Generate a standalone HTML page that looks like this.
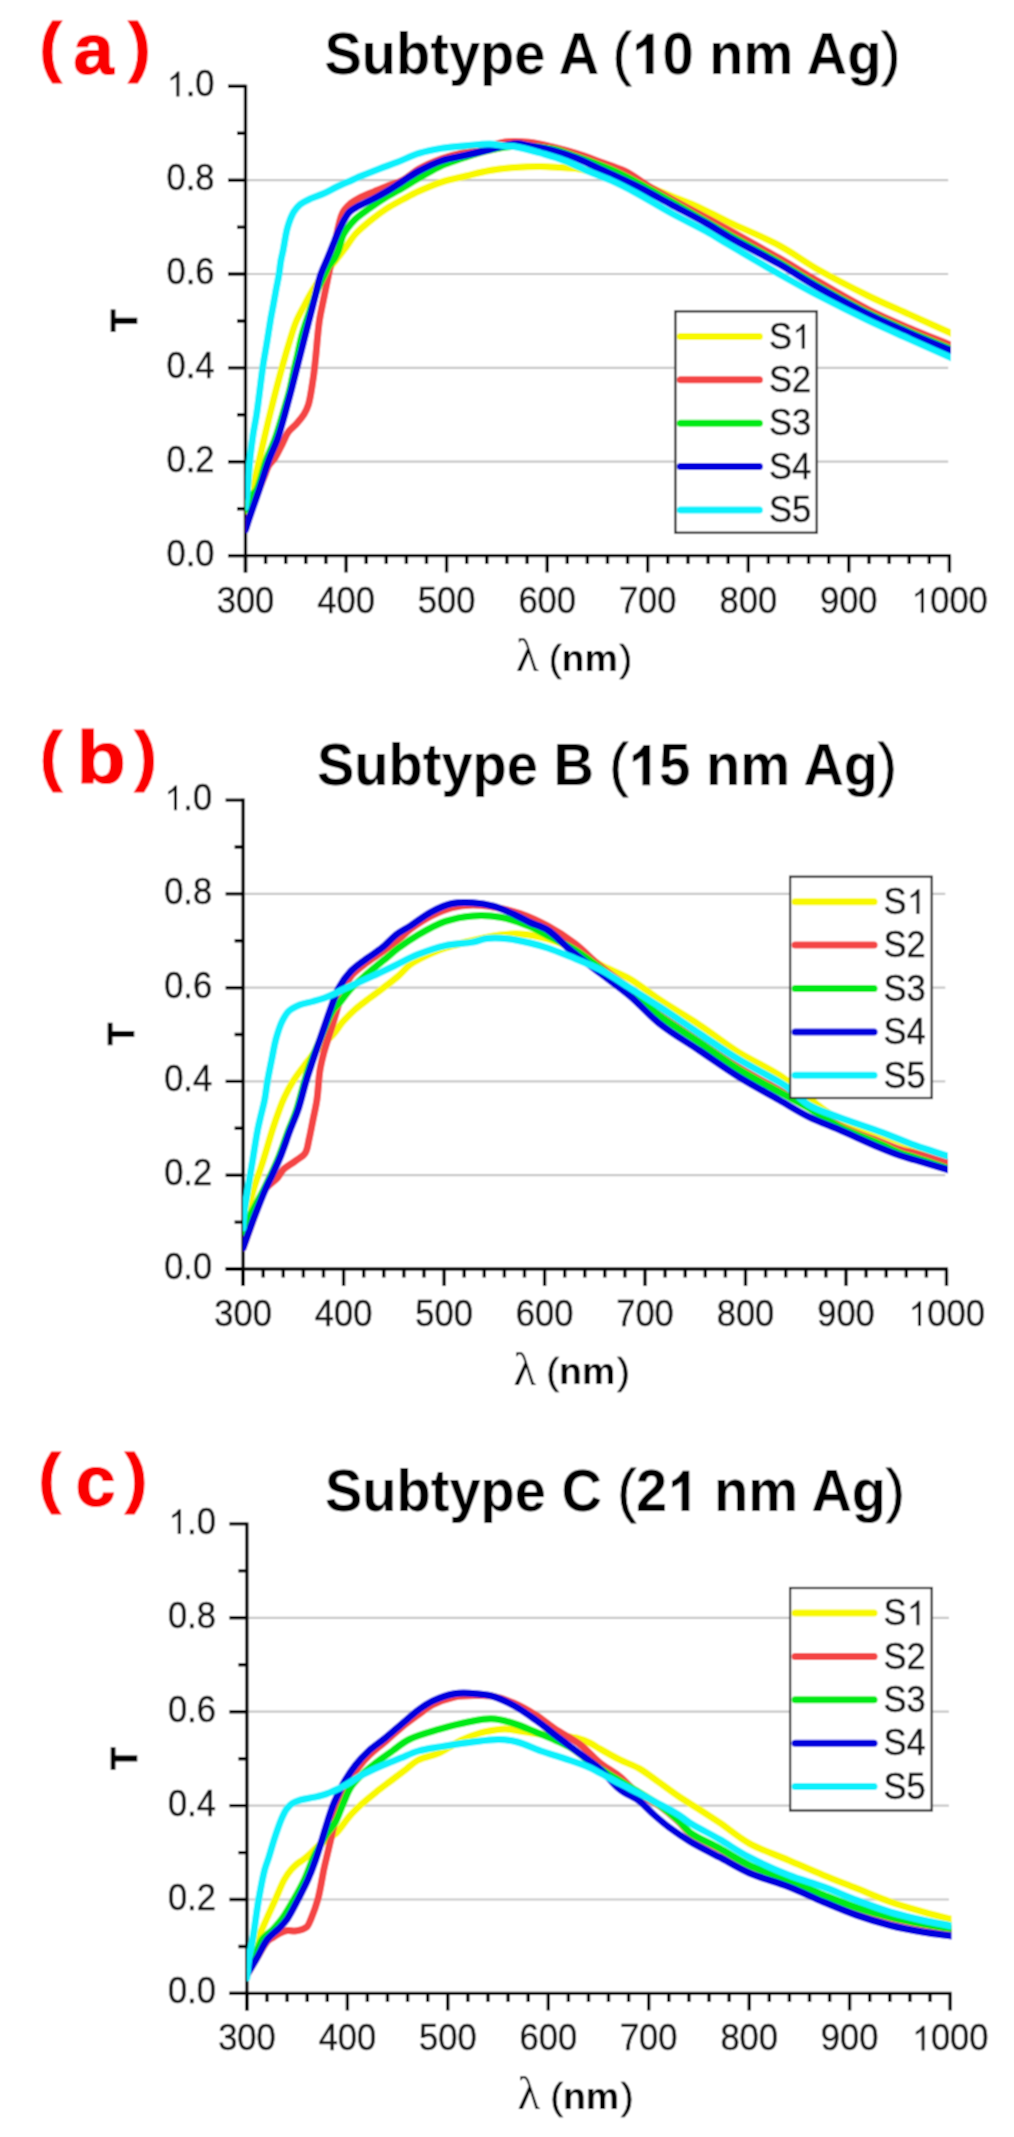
<!DOCTYPE html>
<html><head><meta charset="utf-8"><title>Transmittance spectra of subtypes A, B, C</title>
<style>
html,body{margin:0;padding:0;background:#fff;}
body{width:1014px;height:2137px;overflow:hidden;}
svg{display:block;}
text{font-family:"Liberation Sans", sans-serif;}
.h{fill-opacity:0;stroke-opacity:0;}
.tl{font-size:34.5px;fill:#111;stroke:#111;stroke-width:0.45px;}
.tt{font-size:56px;font-weight:bold;fill:#000;}
.tp{font-weight:normal;stroke:#000;stroke-width:0.9px;}
.pl{font-weight:bold;fill:#fa0000;stroke:#fa0000;stroke-width:1.2px;}
.ax{font-size:37px;font-weight:bold;fill:#000;stroke:#000;stroke-width:0.6px;}
.lam{font-family:"Liberation Serif",serif;font-size:47px;fill:#000;}
.nm{font-size:37.5px;font-weight:bold;fill:#000;}
.np{font-weight:normal;stroke:#000;stroke-width:0.6px;}
</style></head>
<body>
<svg width="1014" height="2137" viewBox="0 0 1014 2137">
<defs><path id="oneR" d="M764,0 L583,0 L583,1100 Q448,985 238,895 L238,1062 Q488,1175 638,1409 L764,1409 Z"/><path id="oneB" d="M806,0 L525,0 L525,1013 Q367,885 172,812 L172,1052 Q437,1160 567,1409 L806,1409 Z"/>
<filter id="soft" x="0" y="0" width="1014" height="2137" filterUnits="userSpaceOnUse"><feConvolveMatrix order="3" kernelMatrix="1 2 1 2 4 2 1 2 1" divisor="16" edgeMode="duplicate" preserveAlpha="true"/></filter></defs>
<g filter="url(#soft)">
<rect width="1014" height="2137" fill="#fff"/>
<line x1="245.5" y1="461.7" x2="948.2" y2="461.7" stroke="#c8c8c8" stroke-width="2.2"/>
<line x1="245.5" y1="367.9" x2="948.2" y2="367.9" stroke="#c8c8c8" stroke-width="2.2"/>
<line x1="245.5" y1="274.0" x2="948.2" y2="274.0" stroke="#c8c8c8" stroke-width="2.2"/>
<line x1="245.5" y1="180.2" x2="948.2" y2="180.2" stroke="#c8c8c8" stroke-width="2.2"/>
<path d="M228.0,555.6 L950.9,555.6" stroke="#000" stroke-width="3.4" fill="none"/>
<path d="M245.5,572.6 L245.5,84.8" stroke="#000" stroke-width="3.4" fill="none"/>
<path d="M245.5,555.6 L245.5,572.6 M265.6,555.6 L265.6,564.1 M285.7,555.6 L285.7,564.1 M305.8,555.6 L305.8,564.1 M325.9,555.6 L325.9,564.1 M346.1,555.6 L346.1,572.6 M366.2,555.6 L366.2,564.1 M386.3,555.6 L386.3,564.1 M406.4,555.6 L406.4,564.1 M426.5,555.6 L426.5,564.1 M446.6,555.6 L446.6,572.6 M466.7,555.6 L466.7,564.1 M486.8,555.6 L486.8,564.1 M506.9,555.6 L506.9,564.1 M527.1,555.6 L527.1,564.1 M547.2,555.6 L547.2,572.6 M567.3,555.6 L567.3,564.1 M587.4,555.6 L587.4,564.1 M607.5,555.6 L607.5,564.1 M627.6,555.6 L627.6,564.1 M647.7,555.6 L647.7,572.6 M667.8,555.6 L667.8,564.1 M688.0,555.6 L688.0,564.1 M708.1,555.6 L708.1,564.1 M728.2,555.6 L728.2,564.1 M748.3,555.6 L748.3,572.6 M768.4,555.6 L768.4,564.1 M788.5,555.6 L788.5,564.1 M808.6,555.6 L808.6,564.1 M828.7,555.6 L828.7,564.1 M848.8,555.6 L848.8,572.6 M869.0,555.6 L869.0,564.1 M889.1,555.6 L889.1,564.1 M909.2,555.6 L909.2,564.1 M929.3,555.6 L929.3,564.1 M949.4,555.6 L949.4,572.6 M245.5,555.6 L228.0,555.6 M245.5,508.7 L237.0,508.7 M245.5,461.7 L228.0,461.7 M245.5,414.8 L237.0,414.8 M245.5,367.9 L228.0,367.9 M245.5,321.0 L237.0,321.0 M245.5,274.0 L228.0,274.0 M245.5,227.1 L237.0,227.1 M245.5,180.2 L228.0,180.2 M245.5,133.2 L237.0,133.2 M245.5,86.3 L228.0,86.3" stroke="#000" stroke-width="3.4" fill="none"/>
<clipPath id="clipa"><rect x="245.5" y="66.3" width="705.4" height="489.3"/></clipPath>
<g clip-path="url(#clipa)">
<path d="M245.5,511.0 C247.8,503.9 250.1,497.4 252.3,489.6 C254.9,480.4 256.9,470.2 259.5,459.0 C262.7,445.4 266.2,429.4 270.0,414.0 C274.0,397.7 279.2,377.6 283.0,364.0 C285.6,354.5 287.7,347.4 290.0,340.0 C292.0,333.5 293.6,327.7 296.0,322.0 C298.3,316.4 301.4,311.0 304.0,306.0 C306.4,301.4 308.7,297.0 311.0,293.0 C313.0,289.5 314.7,286.8 317.0,283.5 C319.6,279.8 322.9,275.9 326.0,272.0 C329.2,268.0 332.8,264.0 336.0,260.0 C339.1,256.1 341.9,252.6 345.0,248.5 C348.4,244.0 351.4,238.6 355.5,234.0 C360.0,229.0 365.9,224.3 371.2,220.0 C376.4,215.8 381.6,211.9 387.0,208.4 C392.2,205.1 397.5,202.4 402.8,199.5 C408.1,196.7 412.8,194.0 418.7,191.3 C425.7,188.1 434.3,184.4 442.3,181.8 C450.1,179.3 458.1,177.9 466.0,176.0 C473.9,174.1 481.6,171.9 489.7,170.5 C498.0,169.1 506.6,168.2 515.0,167.5 C523.3,166.8 532.1,166.5 540.0,166.5 C547.0,166.5 553.7,167.1 560.0,167.5 C565.6,167.8 570.9,167.9 576.0,168.5 C580.8,169.1 585.3,170.0 590.0,171.0 C594.9,172.0 599.7,173.1 605.0,174.5 C611.2,176.1 618.2,178.1 625.0,180.0 C632.2,182.1 639.8,183.9 647.3,186.5 C655.1,189.2 663.1,192.8 671.0,196.0 C678.9,199.1 686.1,201.6 694.7,205.4 C705.2,210.1 716.7,216.4 729.3,222.4 C744.2,229.5 763.2,236.8 778.6,245.1 C793.1,252.9 804.9,262.1 819.3,270.3 C834.8,279.1 852.9,288.3 868.6,296.0 C882.7,302.9 895.6,308.2 909.3,314.4 C923.2,320.7 937.4,327.0 951.4,333.3" fill="none" stroke="#f8f800" stroke-width="7.0" stroke-linejoin="round" stroke-linecap="round"/>
<path d="M245.5,529.0 C248.7,519.3 251.7,509.2 255.0,500.0 C258.0,491.6 262.0,482.3 264.5,476.0 C266.1,471.9 266.8,469.0 268.5,466.0 C270.1,463.2 272.5,461.6 274.5,458.6 C277.1,454.6 280.0,448.5 282.4,443.8 C284.5,439.7 285.9,435.4 288.3,432.0 C290.5,428.9 293.6,427.0 296.2,424.1 C298.9,421.1 302.0,417.6 304.1,414.2 C306.0,411.0 307.2,408.5 308.5,404.4 C310.4,398.1 311.8,387.5 313.0,379.7 C314.1,372.8 314.6,367.6 315.4,360.0 C316.6,349.4 317.7,332.6 319.2,322.0 C320.3,314.2 321.7,308.6 323.0,302.0 C324.3,295.5 325.7,289.1 327.0,282.6 C328.3,276.1 329.7,269.6 331.0,263.0 C332.3,256.4 333.4,250.4 335.0,243.1 C337.0,234.1 338.9,220.0 342.5,213.0 C344.7,208.6 347.6,206.1 350.5,203.5 C353.2,201.2 355.8,199.8 359.2,198.0 C363.4,195.8 369.1,193.7 374.0,191.6 C378.9,189.5 383.9,187.6 388.8,185.6 C393.5,183.7 398.1,182.5 402.8,180.0 C408.1,177.2 412.7,172.4 418.7,169.0 C425.6,165.1 434.3,161.4 442.3,158.5 C450.1,155.7 458.1,154.1 466.0,152.0 C473.9,149.9 482.7,147.8 489.7,146.0 C495.4,144.5 499.3,142.7 505.0,142.0 C512.0,141.1 520.8,141.4 528.7,142.2 C536.6,143.0 544.5,145.0 552.3,146.9 C560.2,148.8 568.1,150.9 576.0,153.4 C583.9,155.9 591.7,158.8 599.7,161.7 C608.0,164.7 616.8,167.1 625.0,171.2 C633.6,175.5 641.2,181.8 650.0,187.0 C659.5,192.6 668.7,197.5 680.0,203.7 C694.4,211.6 712.9,221.3 729.3,230.3 C745.8,239.4 763.0,248.9 778.6,257.9 C792.9,266.1 805.0,273.9 819.3,282.1 C834.9,291.1 852.8,301.8 868.6,309.8 C882.7,316.9 895.6,322.3 909.3,328.2 C923.2,334.2 937.4,339.7 951.4,345.4" fill="none" stroke="#f44545" stroke-width="7.0" stroke-linejoin="round" stroke-linecap="round"/>
<path d="M245.5,510.0 C247.0,506.0 248.0,501.5 250.0,498.0 C251.8,494.8 254.6,493.5 256.7,489.6 C260.3,482.9 263.0,469.0 266.3,460.0 C269.1,452.3 272.4,446.2 275.0,438.9 C277.8,431.2 280.1,423.1 282.5,415.0 C285.0,406.7 287.8,397.6 289.8,389.6 C291.5,382.7 292.6,376.1 294.0,370.0 C295.2,364.7 296.3,360.4 297.5,355.0 C298.9,348.8 300.4,340.9 302.0,335.0 C303.3,330.2 304.5,326.6 306.0,322.0 C307.8,316.7 310.0,310.7 312.0,305.0 C314.0,299.3 315.8,293.1 318.0,288.0 C319.9,283.6 322.1,279.8 324.0,276.0 C325.7,272.5 327.1,269.0 329.0,266.0 C330.7,263.3 332.9,261.2 334.5,258.6 C336.0,256.1 337.0,253.9 338.3,250.7 C340.1,246.3 340.9,239.5 343.5,234.5 C346.2,229.3 350.2,224.4 354.5,220.0 C359.0,215.5 364.8,211.8 370.0,208.0 C375.1,204.3 380.5,200.6 385.5,197.5 C389.8,194.8 393.3,193.2 398.0,190.5 C404.1,187.0 411.5,182.4 418.7,178.3 C426.3,174.0 434.9,168.5 442.3,165.2 C448.5,162.4 453.3,161.2 460.0,159.0 C468.7,156.2 479.9,152.2 490.0,150.0 C499.9,147.9 509.8,146.2 520.0,146.0 C530.5,145.8 542.2,147.0 552.0,149.0 C560.7,150.7 567.3,153.5 576.0,156.5 C586.8,160.2 600.7,165.2 611.8,170.0 C621.9,174.4 629.9,178.6 640.0,184.0 C652.2,190.5 666.0,198.5 680.0,206.5 C695.6,215.4 712.8,225.7 729.3,235.0 C745.7,244.2 763.0,253.1 778.6,262.0 C792.9,270.2 805.0,278.3 819.3,286.5 C834.9,295.4 852.8,305.4 868.6,313.2 C882.7,320.2 895.6,325.6 909.3,331.6 C923.2,337.6 937.4,343.3 951.4,349.1" fill="none" stroke="#05ea15" stroke-width="7.0" stroke-linejoin="round" stroke-linecap="round"/>
<path d="M245.5,530.0 C246.7,526.3 247.5,523.5 249.0,519.0 C251.5,511.5 255.9,499.4 259.2,489.6 C262.5,479.8 265.5,469.0 268.8,460.0 C271.6,452.3 274.9,446.2 277.5,438.9 C280.2,431.2 282.3,423.1 284.6,415.0 C286.9,406.7 289.1,398.3 291.4,389.6 C293.7,380.6 295.8,372.1 298.4,362.0 C301.5,349.9 305.7,333.5 308.6,322.0 C310.8,313.3 312.5,306.8 314.5,299.0 C316.5,291.0 318.3,281.8 320.7,274.7 C322.6,269.0 325.2,263.9 327.0,259.5 C328.4,256.2 329.4,253.7 330.6,250.7 C331.9,247.5 333.1,244.3 334.5,241.0 C335.9,237.4 337.4,233.5 339.0,230.0 C340.6,226.6 342.2,223.2 344.0,220.2 C345.7,217.4 347.0,214.6 349.3,212.3 C351.8,209.8 355.0,208.1 358.6,206.0 C363.2,203.3 369.7,200.8 375.0,198.0 C380.2,195.3 385.5,192.2 390.0,189.5 C393.7,187.2 396.1,185.5 400.0,183.0 C405.3,179.6 412.0,174.8 418.7,171.2 C426.0,167.3 434.3,163.2 442.3,160.5 C450.1,157.9 458.1,157.0 466.0,155.2 C473.9,153.4 482.7,151.3 489.7,149.5 C495.4,148.1 500.1,146.5 505.0,145.5 C509.5,144.6 513.9,143.6 518.0,143.7 C521.7,143.8 524.4,144.9 528.7,145.7 C535.0,146.9 544.5,148.4 552.3,150.4 C560.3,152.5 568.2,155.1 576.0,158.1 C584.1,161.2 591.2,165.0 600.0,169.0 C610.7,173.9 623.7,179.6 635.5,185.5 C647.4,191.4 659.2,198.1 671.0,204.4 C682.8,210.7 696.0,217.4 706.5,223.4 C715.0,228.2 720.2,232.0 729.3,237.2 C742.5,244.8 763.0,255.0 778.6,263.8 C792.9,271.9 805.0,280.0 819.3,288.1 C834.9,296.9 852.8,306.9 868.6,314.7 C882.7,321.7 895.6,327.1 909.3,333.1 C923.2,339.2 937.4,344.9 951.4,350.8" fill="none" stroke="#0000dd" stroke-width="7.0" stroke-linejoin="round" stroke-linecap="round"/>
<path d="M245.5,507.0 C246.1,501.2 246.8,496.2 247.4,489.6 C248.3,480.8 249.0,468.6 250.0,459.0 C250.9,450.5 251.9,442.6 253.0,435.0 C254.0,428.0 255.2,423.2 256.5,415.0 C258.5,402.1 261.2,377.9 263.1,365.0 C264.3,356.8 265.3,352.0 266.5,345.0 C267.8,337.1 269.4,326.6 270.5,320.0 C271.2,315.7 271.7,313.4 272.5,309.3 C273.5,303.8 274.9,296.1 276.0,290.0 C277.0,284.5 278.2,279.4 279.0,274.3 C279.8,269.4 280.2,264.2 281.0,260.0 C281.6,256.6 282.2,254.7 283.0,251.0 C284.3,245.0 285.5,234.3 287.6,227.3 C289.3,221.4 291.4,215.7 293.9,211.6 C295.8,208.6 297.6,206.6 300.1,204.5 C303.0,202.2 306.7,200.5 310.5,198.7 C314.7,196.7 319.8,195.3 324.3,193.3 C328.8,191.3 332.9,188.7 337.5,186.5 C342.3,184.2 348.3,181.8 352.3,180.0 C355.0,178.8 356.3,178.1 359.2,176.8 C364.1,174.7 372.5,171.4 378.9,168.9 C385.0,166.5 390.7,164.7 397.0,162.3 C403.9,159.6 411.2,155.8 418.7,153.4 C426.3,151.0 434.4,149.4 442.3,148.1 C450.2,146.8 458.1,146.4 466.0,145.7 C473.9,145.0 482.7,143.8 489.7,144.0 C495.4,144.2 500.2,145.5 505.0,146.0 C509.2,146.5 512.2,146.2 516.8,147.0 C523.4,148.1 532.6,150.8 540.5,153.0 C548.4,155.3 556.4,157.5 564.2,160.5 C572.2,163.5 579.9,167.6 587.8,171.0 C595.7,174.3 603.6,177.1 611.5,180.6 C619.5,184.2 626.8,187.9 635.5,192.6 C646.3,198.4 659.1,206.5 671.0,213.0 C682.8,219.4 696.0,225.7 706.5,231.5 C715.0,236.3 720.2,239.8 729.3,245.1 C742.6,252.9 762.9,264.8 778.6,273.7 C792.8,281.7 805.0,288.5 819.3,296.0 C834.9,304.1 852.9,313.1 868.6,320.6 C882.8,327.3 895.6,332.9 909.3,339.1 C923.2,345.4 937.4,351.6 951.4,357.8" fill="none" stroke="#0cf0fc" stroke-width="7.0" stroke-linejoin="round" stroke-linecap="round"/>
</g>
<text id="t1" x="214.5" y="565.7" class="tl" text-anchor="end" transform="translate(0,565.7) scale(1,1.045) translate(0,-565.7)">0.0</text>
<text id="t2" x="214.5" y="471.8" class="tl" text-anchor="end" transform="translate(0,471.8) scale(1,1.045) translate(0,-471.8)">0.2</text>
<text id="t3" x="214.5" y="378.0" class="tl" text-anchor="end" transform="translate(0,378.0) scale(1,1.045) translate(0,-378.0)">0.4</text>
<text id="t4" x="214.5" y="284.1" class="tl" text-anchor="end" transform="translate(0,284.1) scale(1,1.045) translate(0,-284.1)">0.6</text>
<text id="t5" x="214.5" y="190.3" class="tl" text-anchor="end" transform="translate(0,190.3) scale(1,1.045) translate(0,-190.3)">0.8</text>
<text id="t6" x="214.5" y="96.4" class="tl" text-anchor="end" transform="translate(0,96.4) scale(1,1.045) translate(0,-96.4)"><tspan class="h">1</tspan>.0</text>
<text id="t7" x="245.5" y="612.7" class="tl" text-anchor="middle" transform="translate(0,612.7) scale(1,1.045) translate(0,-612.7)">300</text>
<text id="t8" x="346.1" y="612.7" class="tl" text-anchor="middle" transform="translate(0,612.7) scale(1,1.045) translate(0,-612.7)">400</text>
<text id="t9" x="446.6" y="612.7" class="tl" text-anchor="middle" transform="translate(0,612.7) scale(1,1.045) translate(0,-612.7)">500</text>
<text id="t10" x="547.2" y="612.7" class="tl" text-anchor="middle" transform="translate(0,612.7) scale(1,1.045) translate(0,-612.7)">600</text>
<text id="t11" x="647.7" y="612.7" class="tl" text-anchor="middle" transform="translate(0,612.7) scale(1,1.045) translate(0,-612.7)">700</text>
<text id="t12" x="748.3" y="612.7" class="tl" text-anchor="middle" transform="translate(0,612.7) scale(1,1.045) translate(0,-612.7)">800</text>
<text id="t13" x="848.8" y="612.7" class="tl" text-anchor="middle" transform="translate(0,612.7) scale(1,1.045) translate(0,-612.7)">900</text>
<text id="t14" x="949.4" y="612.7" class="tl" text-anchor="middle" transform="translate(0,612.7) scale(1,1.045) translate(0,-612.7)"><tspan class="h">1</tspan>000</text>
<text id="t15" x="324.5" y="74.0" class="tt" transform="translate(0,74.0) scale(1,1.045) translate(0,-74.0)">Subtype A <tspan class="tp">(</tspan><tspan class="h">1</tspan>0 nm Ag<tspan class="tp">)</tspan></text>
<rect x="675.4" y="311.4" width="141.3" height="221.3" fill="#fff" stroke="#222" stroke-width="2.2"/>
<line x1="680.4" y1="336.4" x2="759.4" y2="336.4" stroke="#f8f800" stroke-width="7.0" stroke-linecap="round"/>
<text id="t16" x="768.9" y="348.7" class="tl" transform="translate(0,348.7) scale(1,1.045) translate(0,-348.7)">S<tspan class="h">1</tspan></text>
<line x1="680.4" y1="379.8" x2="759.4" y2="379.8" stroke="#f44545" stroke-width="7.0" stroke-linecap="round"/>
<text id="t17" x="768.9" y="392.1" class="tl" transform="translate(0,392.1) scale(1,1.045) translate(0,-392.1)">S2</text>
<line x1="680.4" y1="423.2" x2="759.4" y2="423.2" stroke="#05ea15" stroke-width="7.0" stroke-linecap="round"/>
<text id="t18" x="768.9" y="435.5" class="tl" transform="translate(0,435.5) scale(1,1.045) translate(0,-435.5)">S3</text>
<line x1="680.4" y1="466.6" x2="759.4" y2="466.6" stroke="#0000dd" stroke-width="7.0" stroke-linecap="round"/>
<text id="t19" x="768.9" y="478.9" class="tl" transform="translate(0,478.9) scale(1,1.045) translate(0,-478.9)">S4</text>
<line x1="680.4" y1="510.0" x2="759.4" y2="510.0" stroke="#0cf0fc" stroke-width="7.0" stroke-linecap="round"/>
<text id="t20" x="768.9" y="522.3" class="tl" transform="translate(0,522.3) scale(1,1.045) translate(0,-522.3)">S5</text>
<text transform="translate(123.7,320.6) rotate(-90)" x="0" y="0" text-anchor="middle" class="ax" dy="13">T</text>
<text x="516.0" y="671.4" class="lam">λ</text>
<text x="549.0" y="671.0" class="nm"><tspan class="np">(</tspan>nm<tspan class="np" dx="1.8">)</tspan></text>
<line x1="243.1" y1="1175.2" x2="945.3" y2="1175.2" stroke="#c8c8c8" stroke-width="2.2"/>
<line x1="243.1" y1="1081.4" x2="945.3" y2="1081.4" stroke="#c8c8c8" stroke-width="2.2"/>
<line x1="243.1" y1="987.7" x2="945.3" y2="987.7" stroke="#c8c8c8" stroke-width="2.2"/>
<line x1="243.1" y1="893.9" x2="945.3" y2="893.9" stroke="#c8c8c8" stroke-width="2.2"/>
<path d="M225.6,1269.0 L948.0,1269.0" stroke="#000" stroke-width="3.4" fill="none"/>
<path d="M243.1,1286.0 L243.1,798.6" stroke="#000" stroke-width="3.4" fill="none"/>
<path d="M243.1,1269.0 L243.1,1286.0 M263.2,1269.0 L263.2,1277.5 M283.3,1269.0 L283.3,1277.5 M303.4,1269.0 L303.4,1277.5 M323.5,1269.0 L323.5,1277.5 M343.6,1269.0 L343.6,1286.0 M363.7,1269.0 L363.7,1277.5 M383.8,1269.0 L383.8,1277.5 M403.9,1269.0 L403.9,1277.5 M424.0,1269.0 L424.0,1277.5 M444.1,1269.0 L444.1,1286.0 M464.2,1269.0 L464.2,1277.5 M484.3,1269.0 L484.3,1277.5 M504.4,1269.0 L504.4,1277.5 M524.5,1269.0 L524.5,1277.5 M544.6,1269.0 L544.6,1286.0 M564.7,1269.0 L564.7,1277.5 M584.8,1269.0 L584.8,1277.5 M604.8,1269.0 L604.8,1277.5 M624.9,1269.0 L624.9,1277.5 M645.0,1269.0 L645.0,1286.0 M665.1,1269.0 L665.1,1277.5 M685.2,1269.0 L685.2,1277.5 M705.3,1269.0 L705.3,1277.5 M725.4,1269.0 L725.4,1277.5 M745.5,1269.0 L745.5,1286.0 M765.6,1269.0 L765.6,1277.5 M785.7,1269.0 L785.7,1277.5 M805.8,1269.0 L805.8,1277.5 M825.9,1269.0 L825.9,1277.5 M846.0,1269.0 L846.0,1286.0 M866.1,1269.0 L866.1,1277.5 M886.2,1269.0 L886.2,1277.5 M906.3,1269.0 L906.3,1277.5 M926.4,1269.0 L926.4,1277.5 M946.5,1269.0 L946.5,1286.0 M243.1,1269.0 L225.6,1269.0 M243.1,1222.1 L234.6,1222.1 M243.1,1175.2 L225.6,1175.2 M243.1,1128.3 L234.6,1128.3 M243.1,1081.4 L225.6,1081.4 M243.1,1034.5 L234.6,1034.5 M243.1,987.7 L225.6,987.7 M243.1,940.8 L234.6,940.8 M243.1,893.9 L225.6,893.9 M243.1,847.0 L234.6,847.0 M243.1,800.1 L225.6,800.1" stroke="#000" stroke-width="3.4" fill="none"/>
<clipPath id="clipb"><rect x="243.1" y="780.1" width="704.9" height="488.9"/></clipPath>
<g clip-path="url(#clipb)">
<path d="M243.1,1228.0 C244.0,1224.8 244.8,1222.4 245.9,1218.3 C247.9,1211.1 250.9,1198.6 253.8,1188.8 C256.8,1178.9 260.5,1169.1 263.6,1159.2 C266.7,1149.4 269.6,1138.7 272.5,1129.6 C275.0,1121.8 277.8,1113.9 280.0,1108.0 C281.5,1103.9 282.4,1101.5 284.2,1097.7 C286.6,1092.6 290.0,1086.1 293.6,1080.4 C297.3,1074.5 302.4,1068.1 306.3,1063.0 C309.4,1058.9 312.0,1055.4 315.0,1052.0 C317.9,1048.8 321.0,1045.9 324.0,1043.0 C327.0,1040.1 330.2,1037.8 333.1,1034.6 C336.4,1031.0 339.1,1026.1 342.6,1022.0 C346.4,1017.7 350.7,1013.3 355.2,1009.4 C359.7,1005.4 364.8,1001.8 369.4,998.3 C373.7,995.0 377.6,992.3 382.0,988.9 C387.0,985.1 392.9,980.7 397.8,976.5 C402.4,972.5 405.6,967.9 410.7,964.2 C416.5,960.0 424.4,956.3 431.4,953.2 C438.2,950.2 444.9,948.2 452.0,946.0 C459.4,943.7 467.1,941.8 475.0,940.0 C483.1,938.1 492.1,936.0 500.0,935.0 C507.0,934.1 512.8,933.5 520.0,934.0 C528.5,934.5 538.2,936.3 547.6,939.0 C558.1,942.0 570.6,947.3 579.9,952.0 C587.6,955.9 592.5,960.4 600.0,964.5 C608.9,969.4 620.2,973.3 630.0,979.0 C640.2,985.0 649.2,992.8 660.0,1000.0 C672.1,1008.1 686.4,1016.1 699.4,1024.8 C712.7,1033.6 725.5,1044.0 738.9,1052.4 C752.1,1060.7 767.1,1067.0 779.2,1075.0 C790.1,1082.2 798.8,1090.6 808.8,1098.0 C818.7,1105.4 827.5,1113.5 838.9,1119.5 C851.7,1126.2 869.1,1130.0 882.5,1135.0 C894.2,1139.4 904.1,1143.8 915.1,1147.8 C926.1,1151.8 937.4,1155.1 948.5,1158.8" fill="none" stroke="#f8f800" stroke-width="7.0" stroke-linejoin="round" stroke-linecap="round"/>
<path d="M243.1,1248.0 C246.7,1238.1 250.1,1228.2 253.8,1218.3 C257.6,1208.4 260.7,1195.8 265.6,1188.8 C269.1,1183.8 274.3,1181.6 277.4,1178.0 C279.9,1175.1 280.8,1172.1 283.4,1169.5 C286.5,1166.4 291.5,1163.9 295.2,1161.1 C298.7,1158.5 302.8,1156.7 305.1,1153.3 C307.6,1149.6 307.8,1144.5 309.0,1139.4 C310.4,1133.4 311.7,1126.3 313.0,1119.7 C314.3,1113.1 315.8,1107.3 316.9,1100.0 C318.2,1091.1 318.6,1078.5 320.0,1070.0 C321.0,1063.7 322.2,1059.0 323.6,1053.6 C325.0,1048.3 326.7,1043.2 328.4,1037.8 C330.2,1032.0 332.1,1026.1 334.0,1020.0 C336.0,1013.5 337.9,1006.1 340.0,1000.0 C341.9,994.6 343.8,989.4 346.0,985.0 C347.9,981.2 349.2,978.3 352.0,975.0 C355.5,970.9 361.2,966.8 366.2,963.0 C371.2,959.1 376.8,955.8 382.0,952.0 C387.3,948.1 392.9,944.0 397.8,940.0 C402.4,936.3 405.7,932.7 410.7,929.0 C416.7,924.6 424.3,919.5 431.4,915.9 C438.1,912.4 445.1,909.4 452.1,907.6 C458.9,905.8 465.9,905.1 472.8,905.0 C479.7,904.9 486.2,905.8 493.5,907.0 C501.8,908.4 511.2,910.5 520.0,913.5 C529.3,916.7 538.6,921.0 547.6,925.9 C557.0,931.0 566.5,937.1 575.2,943.8 C584.0,950.5 591.2,958.7 600.0,966.0 C609.4,973.8 620.1,981.1 630.0,989.0 C640.1,997.1 649.1,1005.8 660.0,1014.0 C672.0,1023.0 686.3,1031.5 699.4,1040.4 C712.6,1049.4 725.5,1059.3 738.9,1067.6 C752.1,1075.8 766.8,1083.3 779.2,1090.0 C789.8,1095.7 799.0,1099.7 808.8,1105.5 C818.9,1111.5 827.6,1119.6 838.9,1125.5 C851.8,1132.2 871.2,1138.4 882.5,1142.8 C889.6,1145.6 894.3,1147.7 900.0,1149.5 C905.2,1151.2 909.1,1151.9 915.1,1153.5 C924.1,1155.9 937.4,1159.7 948.5,1162.8" fill="none" stroke="#f44545" stroke-width="7.0" stroke-linejoin="round" stroke-linecap="round"/>
<path d="M243.1,1232.0 C245.7,1226.0 247.9,1220.4 251.0,1214.0 C254.7,1206.2 259.8,1197.6 264.1,1188.8 C268.7,1179.4 273.8,1169.2 277.9,1159.2 C282.0,1149.4 285.4,1138.4 288.8,1129.6 C291.5,1122.4 294.1,1117.3 296.5,1110.0 C299.4,1101.2 302.1,1089.3 304.8,1080.4 C307.1,1072.9 309.1,1066.5 311.5,1060.0 C313.8,1053.8 316.5,1047.9 319.0,1042.0 C321.4,1036.3 323.6,1030.5 326.0,1025.0 C328.3,1019.8 330.4,1013.9 333.0,1010.0 C335.0,1007.0 337.0,1005.8 339.4,1003.0 C342.7,999.2 346.3,993.5 350.5,989.0 C355.1,984.1 360.7,979.5 366.2,974.7 C372.2,969.5 379.5,963.7 385.2,959.0 C389.8,955.2 393.0,952.1 397.8,948.5 C403.6,944.2 410.3,939.5 417.6,935.2 C425.9,930.4 435.8,924.6 445.2,921.4 C454.2,918.3 463.5,916.6 472.8,915.9 C482.0,915.2 491.2,915.6 500.5,917.3 C510.3,919.0 521.6,923.0 530.0,926.5 C536.8,929.3 541.1,932.2 547.6,935.6 C555.7,939.8 566.3,944.6 575.0,950.0 C583.7,955.4 591.3,961.6 600.0,968.0 C609.6,975.1 620.1,983.1 630.0,991.0 C640.1,999.1 649.1,1007.8 660.0,1016.0 C672.0,1025.0 686.3,1033.5 699.4,1042.4 C712.6,1051.4 725.5,1061.3 738.9,1069.6 C752.1,1077.8 766.8,1085.2 779.2,1092.0 C789.8,1097.8 799.0,1102.2 808.8,1107.9 C818.9,1113.7 827.7,1120.7 838.9,1126.5 C851.9,1133.2 871.3,1140.0 882.5,1145.0 C889.7,1148.2 894.3,1150.9 900.0,1153.0 C905.1,1154.9 909.1,1155.6 915.1,1157.5 C924.1,1160.3 937.4,1164.8 948.5,1168.5" fill="none" stroke="#05ea15" stroke-width="7.0" stroke-linejoin="round" stroke-linecap="round"/>
<path d="M243.1,1248.0 C246.7,1238.1 250.1,1228.2 253.8,1218.3 C257.6,1208.4 261.4,1198.6 265.6,1188.8 C269.9,1178.9 275.3,1169.2 279.4,1159.2 C283.5,1149.4 286.9,1138.4 290.3,1129.6 C293.0,1122.4 295.6,1117.3 298.0,1110.0 C300.9,1101.2 303.6,1089.3 306.3,1080.4 C308.6,1072.9 310.7,1066.9 313.0,1060.0 C315.4,1052.8 317.7,1045.8 320.5,1037.8 C323.8,1028.2 328.2,1015.2 331.5,1006.2 C334.1,999.3 335.5,993.8 338.6,988.1 C341.8,982.2 345.9,976.4 350.5,971.5 C355.1,966.7 360.9,962.9 366.2,958.9 C371.4,955.0 376.9,951.9 382.0,947.8 C387.2,943.6 391.9,937.8 397.0,934.0 C401.5,930.6 405.7,928.8 410.7,925.6 C416.9,921.6 424.3,915.5 431.4,911.8 C438.1,908.3 445.1,905.0 452.1,903.5 C458.9,902.1 465.9,902.4 472.8,902.8 C479.7,903.2 486.7,904.3 493.5,906.2 C500.5,908.2 507.9,911.6 514.3,914.5 C520.0,917.1 524.6,920.0 530.0,922.5 C535.7,925.1 541.7,926.3 547.6,930.0 C555.0,934.7 561.9,943.0 570.0,949.7 C579.2,957.3 590.0,965.3 600.0,973.0 C610.0,980.7 620.2,987.7 630.0,996.0 C640.2,1004.6 648.9,1015.2 660.0,1024.0 C671.9,1033.5 686.3,1041.7 699.4,1050.5 C712.6,1059.3 725.5,1068.7 738.9,1077.0 C752.1,1085.2 766.8,1092.9 779.2,1100.0 C789.8,1106.0 798.7,1111.8 808.8,1116.8 C818.7,1121.7 828.2,1124.9 838.9,1129.5 C851.2,1134.8 867.1,1142.3 878.3,1147.0 C886.6,1150.5 893.4,1153.2 900.0,1155.5 C905.4,1157.4 909.1,1158.2 915.1,1160.0 C924.1,1162.7 937.4,1166.6 948.5,1169.9" fill="none" stroke="#0000dd" stroke-width="7.0" stroke-linejoin="round" stroke-linecap="round"/>
<path d="M243.1,1228.0 C243.2,1224.8 243.0,1222.4 243.4,1218.3 C244.1,1211.1 246.3,1198.6 247.9,1188.8 C249.5,1178.9 251.2,1169.1 252.8,1159.2 C254.4,1149.3 256.1,1137.7 257.7,1129.6 C258.8,1123.9 259.9,1119.9 261.0,1115.0 C262.2,1110.0 263.5,1105.4 264.6,1100.0 C265.8,1093.9 266.4,1087.1 267.6,1080.4 C268.9,1073.2 270.5,1065.3 272.0,1058.0 C273.4,1051.1 274.5,1044.1 276.3,1037.8 C277.9,1032.2 279.5,1026.7 281.8,1022.0 C283.8,1017.9 285.8,1013.9 288.9,1011.0 C291.9,1008.1 296.1,1006.3 300.0,1004.7 C304.0,1003.1 308.6,1002.6 312.6,1001.5 C316.4,1000.5 320.0,999.6 323.6,998.3 C327.3,997.0 331.2,995.2 334.7,993.6 C338.0,992.1 340.6,990.5 344.1,988.9 C348.3,986.9 353.3,984.8 358.3,982.6 C363.8,980.1 369.8,977.4 375.7,974.7 C381.7,971.9 387.5,969.1 394.0,966.0 C401.4,962.5 409.3,957.9 417.6,954.6 C426.3,951.1 435.9,947.7 445.2,945.6 C454.3,943.6 465.2,943.6 472.8,942.1 C478.2,941.1 481.5,939.1 486.6,938.5 C492.8,937.7 500.4,938.0 507.4,938.7 C514.8,939.4 523.0,941.3 530.0,943.0 C536.3,944.5 541.4,945.9 547.6,948.0 C554.7,950.4 562.0,953.4 570.0,956.6 C579.3,960.4 590.2,964.4 600.0,969.5 C610.2,974.8 620.0,981.8 630.0,988.0 C640.0,994.3 649.4,1000.1 660.0,1007.0 C672.3,1015.0 686.2,1024.7 699.4,1033.5 C712.5,1042.3 725.5,1051.5 738.9,1059.6 C752.1,1067.6 770.4,1076.6 779.2,1082.0 C783.6,1084.7 785.3,1085.7 789.0,1088.5 C794.5,1092.6 801.1,1100.4 808.8,1105.0 C817.4,1110.2 827.9,1113.0 838.9,1117.2 C852.0,1122.2 869.1,1127.5 882.5,1132.5 C894.2,1136.8 904.1,1141.3 915.1,1145.3 C926.1,1149.3 937.4,1152.6 948.5,1156.3" fill="none" stroke="#0cf0fc" stroke-width="7.0" stroke-linejoin="round" stroke-linecap="round"/>
</g>
<text id="t21" x="212.1" y="1279.1" class="tl" text-anchor="end" transform="translate(0,1279.1) scale(1,1.045) translate(0,-1279.1)">0.0</text>
<text id="t22" x="212.1" y="1185.3" class="tl" text-anchor="end" transform="translate(0,1185.3) scale(1,1.045) translate(0,-1185.3)">0.2</text>
<text id="t23" x="212.1" y="1091.5" class="tl" text-anchor="end" transform="translate(0,1091.5) scale(1,1.045) translate(0,-1091.5)">0.4</text>
<text id="t24" x="212.1" y="997.8" class="tl" text-anchor="end" transform="translate(0,997.8) scale(1,1.045) translate(0,-997.8)">0.6</text>
<text id="t25" x="212.1" y="904.0" class="tl" text-anchor="end" transform="translate(0,904.0) scale(1,1.045) translate(0,-904.0)">0.8</text>
<text id="t26" x="212.1" y="810.2" class="tl" text-anchor="end" transform="translate(0,810.2) scale(1,1.045) translate(0,-810.2)"><tspan class="h">1</tspan>.0</text>
<text id="t27" x="243.1" y="1326.1" class="tl" text-anchor="middle" transform="translate(0,1326.1) scale(1,1.045) translate(0,-1326.1)">300</text>
<text id="t28" x="343.6" y="1326.1" class="tl" text-anchor="middle" transform="translate(0,1326.1) scale(1,1.045) translate(0,-1326.1)">400</text>
<text id="t29" x="444.1" y="1326.1" class="tl" text-anchor="middle" transform="translate(0,1326.1) scale(1,1.045) translate(0,-1326.1)">500</text>
<text id="t30" x="544.6" y="1326.1" class="tl" text-anchor="middle" transform="translate(0,1326.1) scale(1,1.045) translate(0,-1326.1)">600</text>
<text id="t31" x="645.0" y="1326.1" class="tl" text-anchor="middle" transform="translate(0,1326.1) scale(1,1.045) translate(0,-1326.1)">700</text>
<text id="t32" x="745.5" y="1326.1" class="tl" text-anchor="middle" transform="translate(0,1326.1) scale(1,1.045) translate(0,-1326.1)">800</text>
<text id="t33" x="846.0" y="1326.1" class="tl" text-anchor="middle" transform="translate(0,1326.1) scale(1,1.045) translate(0,-1326.1)">900</text>
<text id="t34" x="946.5" y="1326.1" class="tl" text-anchor="middle" transform="translate(0,1326.1) scale(1,1.045) translate(0,-1326.1)"><tspan class="h">1</tspan>000</text>
<text id="t35" x="317.0" y="785.3" class="tt" transform="translate(0,785.3) scale(1,1.045) translate(0,-785.3)">Subtype B <tspan class="tp">(</tspan><tspan class="h">1</tspan>5 nm Ag<tspan class="tp">)</tspan></text>
<rect x="790.1" y="876.7" width="141.6" height="221.3" fill="#fff" stroke="#222" stroke-width="2.2"/>
<line x1="795.1" y1="901.7" x2="874.1" y2="901.7" stroke="#f8f800" stroke-width="7.0" stroke-linecap="round"/>
<text id="t36" x="883.6" y="914.0" class="tl" transform="translate(0,914.0) scale(1,1.045) translate(0,-914.0)">S<tspan class="h">1</tspan></text>
<line x1="795.1" y1="945.1" x2="874.1" y2="945.1" stroke="#f44545" stroke-width="7.0" stroke-linecap="round"/>
<text id="t37" x="883.6" y="957.4" class="tl" transform="translate(0,957.4) scale(1,1.045) translate(0,-957.4)">S2</text>
<line x1="795.1" y1="988.5" x2="874.1" y2="988.5" stroke="#05ea15" stroke-width="7.0" stroke-linecap="round"/>
<text id="t38" x="883.6" y="1000.8" class="tl" transform="translate(0,1000.8) scale(1,1.045) translate(0,-1000.8)">S3</text>
<line x1="795.1" y1="1031.9" x2="874.1" y2="1031.9" stroke="#0000dd" stroke-width="7.0" stroke-linecap="round"/>
<text id="t39" x="883.6" y="1044.2" class="tl" transform="translate(0,1044.2) scale(1,1.045) translate(0,-1044.2)">S4</text>
<line x1="795.1" y1="1075.3" x2="874.1" y2="1075.3" stroke="#0cf0fc" stroke-width="7.0" stroke-linecap="round"/>
<text id="t40" x="883.6" y="1087.6" class="tl" transform="translate(0,1087.6) scale(1,1.045) translate(0,-1087.6)">S5</text>
<text transform="translate(121.2,1034.0) rotate(-90)" x="0" y="0" text-anchor="middle" class="ax" dy="13">T</text>
<text x="513.6" y="1384.8" class="lam">λ</text>
<text x="546.6" y="1384.4" class="nm"><tspan class="np">(</tspan>nm<tspan class="np" dx="1.8">)</tspan></text>
<line x1="246.9" y1="1899.5" x2="948.9" y2="1899.5" stroke="#c8c8c8" stroke-width="2.2"/>
<line x1="246.9" y1="1805.6" x2="948.9" y2="1805.6" stroke="#c8c8c8" stroke-width="2.2"/>
<line x1="246.9" y1="1711.7" x2="948.9" y2="1711.7" stroke="#c8c8c8" stroke-width="2.2"/>
<line x1="246.9" y1="1617.8" x2="948.9" y2="1617.8" stroke="#c8c8c8" stroke-width="2.2"/>
<path d="M229.4,1993.4 L951.6,1993.4" stroke="#000" stroke-width="3.4" fill="none"/>
<path d="M246.9,2010.4 L246.9,1522.4" stroke="#000" stroke-width="3.4" fill="none"/>
<path d="M246.9,1993.4 L246.9,2010.4 M267.0,1993.4 L267.0,2001.9 M287.1,1993.4 L287.1,2001.9 M307.2,1993.4 L307.2,2001.9 M327.3,1993.4 L327.3,2001.9 M347.4,1993.4 L347.4,2010.4 M367.4,1993.4 L367.4,2001.9 M387.5,1993.4 L387.5,2001.9 M407.6,1993.4 L407.6,2001.9 M427.7,1993.4 L427.7,2001.9 M447.8,1993.4 L447.8,2010.4 M467.9,1993.4 L467.9,2001.9 M488.0,1993.4 L488.0,2001.9 M508.1,1993.4 L508.1,2001.9 M528.2,1993.4 L528.2,2001.9 M548.3,1993.4 L548.3,2010.4 M568.4,1993.4 L568.4,2001.9 M588.5,1993.4 L588.5,2001.9 M608.5,1993.4 L608.5,2001.9 M628.6,1993.4 L628.6,2001.9 M648.7,1993.4 L648.7,2010.4 M668.8,1993.4 L668.8,2001.9 M688.9,1993.4 L688.9,2001.9 M709.0,1993.4 L709.0,2001.9 M729.1,1993.4 L729.1,2001.9 M749.2,1993.4 L749.2,2010.4 M769.3,1993.4 L769.3,2001.9 M789.4,1993.4 L789.4,2001.9 M809.5,1993.4 L809.5,2001.9 M829.6,1993.4 L829.6,2001.9 M849.6,1993.4 L849.6,2010.4 M869.7,1993.4 L869.7,2001.9 M889.8,1993.4 L889.8,2001.9 M909.9,1993.4 L909.9,2001.9 M930.0,1993.4 L930.0,2001.9 M950.1,1993.4 L950.1,2010.4 M246.9,1993.4 L229.4,1993.4 M246.9,1946.5 L238.4,1946.5 M246.9,1899.5 L229.4,1899.5 M246.9,1852.6 L238.4,1852.6 M246.9,1805.6 L229.4,1805.6 M246.9,1758.7 L238.4,1758.7 M246.9,1711.7 L229.4,1711.7 M246.9,1664.8 L238.4,1664.8 M246.9,1617.8 L229.4,1617.8 M246.9,1570.9 L238.4,1570.9 M246.9,1523.9 L229.4,1523.9" stroke="#000" stroke-width="3.4" fill="none"/>
<clipPath id="clipc"><rect x="246.9" y="1503.9" width="704.7" height="489.5"/></clipPath>
<g clip-path="url(#clipc)">
<path d="M246.9,1968.0 C248.6,1962.7 250.1,1957.1 252.0,1952.0 C253.8,1947.3 255.7,1943.5 257.8,1938.6 C260.4,1932.7 263.7,1925.5 266.6,1918.9 C269.6,1912.3 272.5,1905.8 275.5,1899.2 C278.5,1892.6 281.4,1884.7 284.4,1879.4 C286.7,1875.4 289.0,1872.3 291.3,1869.6 C293.2,1867.4 295.0,1865.7 297.0,1864.0 C298.9,1862.4 301.1,1861.2 303.1,1859.7 C305.1,1858.2 307.0,1856.6 309.0,1854.8 C311.3,1852.8 313.7,1850.1 316.0,1848.0 C318.0,1846.2 320.0,1844.7 322.0,1843.0 C324.0,1841.3 325.8,1839.5 328.0,1838.0 C330.3,1836.4 332.8,1836.1 335.5,1833.8 C339.8,1830.1 345.0,1821.3 349.7,1816.1 C353.7,1811.6 357.3,1808.2 361.5,1804.3 C365.9,1800.2 370.8,1796.3 375.7,1792.4 C380.7,1788.4 386.0,1784.5 391.1,1780.6 C396.2,1776.7 401.7,1772.6 406.5,1769.0 C410.7,1765.8 413.5,1762.5 418.3,1760.0 C424.2,1756.9 432.6,1756.0 439.6,1752.8 C447.1,1749.4 454.6,1743.4 461.8,1740.0 C468.0,1737.0 474.3,1734.7 480.0,1733.0 C484.8,1731.6 489.3,1730.9 493.7,1730.2 C497.8,1729.6 501.4,1728.9 505.5,1729.0 C510.1,1729.1 514.8,1730.2 520.0,1731.0 C526.1,1731.9 533.3,1733.2 540.0,1734.0 C546.7,1734.8 553.7,1735.3 560.0,1736.0 C565.8,1736.6 571.3,1736.8 576.5,1738.0 C581.3,1739.2 585.9,1741.1 590.0,1743.0 C593.7,1744.7 596.1,1746.7 600.0,1748.9 C605.4,1752.0 613.1,1756.4 619.7,1759.7 C626.2,1762.9 633.0,1765.0 639.4,1768.6 C646.2,1772.4 652.6,1777.8 659.2,1782.4 C665.8,1787.1 672.3,1792.0 678.9,1796.5 C685.4,1800.9 691.9,1804.7 698.6,1809.0 C705.5,1813.4 712.0,1817.6 719.6,1822.7 C728.7,1828.8 738.3,1837.3 749.2,1843.4 C761.1,1850.0 775.9,1854.7 788.6,1860.2 C800.6,1865.3 811.9,1870.4 823.5,1875.2 C834.8,1879.9 845.9,1884.1 857.1,1888.6 C868.3,1893.1 879.3,1898.1 890.6,1902.0 C901.7,1905.9 913.4,1909.1 924.1,1912.1 C933.8,1914.9 942.8,1917.1 952.1,1919.5" fill="none" stroke="#f8f800" stroke-width="7.0" stroke-linejoin="round" stroke-linecap="round"/>
<path d="M246.9,1975.0 C250.2,1969.4 253.4,1963.9 256.8,1958.3 C260.3,1952.6 264.3,1944.4 267.6,1941.0 C269.5,1939.1 271.1,1938.7 273.0,1937.5 C275.2,1936.1 277.6,1934.2 280.0,1933.0 C282.3,1931.9 284.8,1930.8 287.3,1930.5 C289.8,1930.2 292.5,1931.2 295.0,1931.0 C297.4,1930.8 299.9,1930.3 302.0,1929.5 C303.9,1928.8 305.6,1928.2 307.0,1926.8 C308.7,1925.0 309.6,1922.2 311.0,1918.9 C313.1,1913.9 315.9,1906.5 317.9,1899.2 C320.3,1890.4 322.3,1876.8 323.8,1869.6 C324.7,1865.5 325.1,1863.8 326.0,1860.0 C327.3,1854.5 329.4,1845.7 330.7,1840.0 C331.6,1835.8 332.1,1833.2 333.0,1829.0 C334.1,1823.5 335.4,1815.8 337.0,1810.0 C338.4,1804.9 340.1,1800.5 342.0,1796.0 C343.8,1791.5 345.5,1787.4 348.0,1783.0 C350.8,1778.1 354.3,1772.7 358.0,1768.0 C361.7,1763.2 365.5,1758.8 370.0,1754.5 C374.8,1749.8 380.7,1745.6 386.0,1741.0 C391.4,1736.4 396.6,1731.4 402.0,1727.0 C407.3,1722.7 412.8,1718.8 418.0,1715.0 C422.8,1711.5 426.7,1707.9 432.2,1705.0 C438.6,1701.7 446.9,1698.6 454.4,1697.0 C461.7,1695.5 469.9,1695.6 476.6,1695.5 C482.0,1695.4 486.0,1695.1 491.4,1696.0 C498.1,1697.2 506.4,1699.9 513.6,1703.0 C521.1,1706.2 528.7,1710.6 535.7,1715.0 C542.5,1719.3 548.1,1724.4 555.0,1729.0 C562.6,1734.1 571.9,1738.3 579.4,1744.0 C586.9,1749.6 593.1,1757.5 600.0,1763.0 C606.3,1768.0 612.7,1771.0 619.0,1776.0 C625.9,1781.4 632.3,1789.4 639.4,1794.5 C645.8,1799.1 652.8,1801.1 659.2,1805.5 C666.0,1810.2 673.4,1816.9 678.9,1822.0 C683.3,1826.1 685.0,1829.7 690.0,1833.5 C697.2,1838.9 709.8,1843.9 719.6,1849.3 C729.5,1854.8 738.4,1861.1 749.2,1866.1 C761.2,1871.7 775.9,1875.8 788.6,1880.9 C800.6,1885.8 811.9,1891.3 823.5,1896.0 C834.8,1900.6 845.8,1905.0 857.1,1908.7 C868.2,1912.3 879.4,1915.3 890.6,1918.0 C901.7,1920.7 913.4,1923.0 924.1,1925.0 C933.8,1926.8 942.8,1928.0 952.1,1929.4" fill="none" stroke="#f44545" stroke-width="7.0" stroke-linejoin="round" stroke-linecap="round"/>
<path d="M246.9,1972.0 C248.9,1967.3 251.0,1962.2 253.0,1958.0 C254.7,1954.5 256.4,1951.7 258.0,1948.5 C259.6,1945.3 260.3,1942.0 262.5,1939.0 C265.1,1935.4 270.2,1932.3 273.5,1928.8 C276.6,1925.6 279.1,1922.9 282.0,1918.9 C285.9,1913.6 290.2,1905.8 294.0,1899.2 C297.7,1892.7 301.4,1886.0 304.5,1879.4 C307.5,1873.0 309.9,1865.8 312.5,1860.0 C314.7,1855.2 316.7,1851.2 319.0,1847.0 C321.2,1842.9 323.4,1839.0 326.0,1835.0 C328.8,1830.7 332.8,1826.8 335.5,1822.0 C338.4,1816.9 340.1,1810.7 342.6,1805.0 C345.2,1799.1 347.5,1792.2 350.9,1787.0 C353.9,1782.3 357.6,1778.9 361.5,1775.0 C365.8,1770.8 370.7,1766.9 375.7,1763.0 C380.9,1758.9 386.7,1754.9 392.3,1751.0 C397.8,1747.1 402.3,1742.8 409.0,1739.5 C417.4,1735.3 429.4,1732.2 439.6,1729.2 C449.5,1726.3 460.0,1723.6 469.2,1721.8 C477.1,1720.3 484.0,1718.6 491.4,1718.8 C498.8,1719.0 506.3,1721.1 513.6,1723.3 C521.1,1725.5 528.6,1729.2 535.7,1732.1 C542.4,1734.8 548.8,1737.2 555.0,1740.0 C560.9,1742.7 566.6,1745.0 572.2,1748.5 C578.3,1752.3 583.8,1757.7 590.0,1762.0 C596.4,1766.5 603.3,1770.8 610.0,1775.0 C616.6,1779.1 622.7,1782.6 630.0,1787.0 C638.8,1792.4 650.6,1798.9 659.2,1805.0 C666.6,1810.3 673.4,1815.9 678.9,1821.0 C683.3,1825.0 685.0,1828.7 690.0,1832.5 C697.2,1837.9 709.8,1842.9 719.6,1848.3 C729.5,1853.8 738.4,1860.0 749.2,1865.1 C761.2,1870.7 775.9,1874.9 788.6,1880.0 C800.6,1884.9 811.9,1890.3 823.5,1895.0 C834.8,1899.5 845.8,1904.0 857.1,1907.7 C868.2,1911.3 879.4,1914.3 890.6,1917.0 C901.7,1919.7 913.4,1922.0 924.1,1924.0 C933.8,1925.8 942.8,1927.0 952.1,1928.4" fill="none" stroke="#05ea15" stroke-width="7.0" stroke-linejoin="round" stroke-linecap="round"/>
<path d="M246.9,1975.0 C250.2,1969.4 253.5,1964.1 256.8,1958.3 C260.4,1952.1 263.5,1944.2 267.6,1939.0 C270.9,1934.7 275.1,1932.3 278.5,1928.8 C281.7,1925.5 284.4,1923.0 287.3,1918.9 C291.0,1913.6 294.7,1905.8 298.2,1899.2 C301.6,1892.6 305.1,1886.0 308.0,1879.4 C310.8,1873.0 313.2,1866.6 315.5,1860.0 C317.8,1853.4 319.8,1846.7 321.9,1840.0 C324.0,1833.3 326.0,1826.3 328.0,1820.0 C329.8,1814.4 331.6,1808.8 333.5,1804.0 C335.1,1799.9 336.8,1796.8 338.6,1793.0 C340.6,1789.0 342.4,1784.9 345.0,1780.6 C348.0,1775.6 351.7,1769.9 355.6,1765.0 C359.5,1760.0 363.8,1755.4 368.6,1751.0 C373.6,1746.4 379.7,1742.5 385.2,1738.0 C390.8,1733.4 396.3,1728.5 401.8,1723.8 C407.3,1719.2 412.9,1714.0 418.3,1710.0 C423.0,1706.5 426.8,1703.7 432.2,1701.1 C438.6,1698.1 446.9,1694.9 454.4,1693.7 C461.7,1692.5 470.0,1693.2 476.6,1693.7 C482.0,1694.1 486.1,1694.4 491.4,1695.9 C498.2,1697.8 506.4,1701.6 513.6,1705.5 C521.2,1709.6 528.7,1715.0 535.7,1720.0 C542.5,1724.8 548.2,1729.8 555.0,1735.0 C562.7,1740.9 571.8,1747.6 579.6,1753.5 C586.7,1758.9 593.5,1763.2 600.0,1769.0 C606.9,1775.1 612.8,1783.8 619.7,1789.3 C626.0,1794.3 633.5,1796.7 639.4,1801.1 C644.9,1805.3 649.1,1810.5 654.2,1815.0 C659.3,1819.5 664.3,1823.8 670.0,1828.0 C676.2,1832.6 682.6,1836.9 690.0,1841.4 C698.8,1846.7 709.7,1851.9 719.6,1857.2 C729.5,1862.5 738.4,1868.3 749.2,1873.0 C761.2,1878.3 776.0,1881.8 788.6,1886.8 C800.7,1891.5 811.9,1897.2 823.5,1902.0 C834.8,1906.7 845.8,1911.5 857.1,1915.4 C868.2,1919.3 879.4,1922.7 890.6,1925.5 C901.7,1928.3 913.4,1930.4 924.1,1932.2 C933.8,1933.8 942.8,1934.7 952.1,1936.0" fill="none" stroke="#0000dd" stroke-width="7.0" stroke-linejoin="round" stroke-linecap="round"/>
<path d="M246.9,1978.0 C247.6,1971.4 247.9,1964.8 248.9,1958.3 C249.9,1951.7 251.5,1946.3 252.8,1938.6 C254.7,1927.7 256.6,1911.4 258.7,1899.2 C260.6,1888.6 262.7,1877.1 264.7,1869.6 C266.0,1864.8 267.2,1862.3 268.6,1858.0 C270.3,1852.7 272.0,1846.2 274.0,1840.0 C276.2,1833.3 279.0,1824.8 281.4,1819.2 C283.1,1815.2 284.4,1812.0 286.4,1809.3 C288.1,1806.9 290.1,1804.9 292.3,1803.4 C294.4,1802.0 296.4,1801.3 299.2,1800.4 C303.2,1799.1 309.4,1798.4 314.2,1797.2 C318.7,1796.1 323.1,1795.1 327.2,1793.6 C331.2,1792.2 335.4,1790.1 338.6,1788.6 C341.1,1787.4 342.4,1786.8 345.0,1785.3 C349.5,1782.8 356.5,1778.0 362.7,1774.7 C369.1,1771.3 376.3,1768.0 382.8,1765.2 C388.9,1762.6 394.7,1760.5 400.6,1758.1 C406.5,1755.7 412.0,1752.8 418.3,1751.0 C425.0,1749.0 431.9,1748.2 439.6,1746.9 C448.6,1745.4 459.3,1743.7 469.2,1742.5 C479.1,1741.3 490.1,1739.4 498.8,1739.5 C505.7,1739.6 510.9,1740.4 517.3,1742.0 C524.8,1743.9 533.1,1748.2 541.0,1751.0 C548.9,1753.8 556.8,1755.9 564.7,1758.6 C572.6,1761.3 581.9,1764.2 588.3,1767.0 C593.0,1769.0 595.6,1770.7 600.0,1773.0 C605.7,1776.0 613.1,1780.1 619.7,1783.5 C626.2,1786.9 632.8,1790.1 639.4,1793.5 C646.0,1796.9 652.6,1800.4 659.2,1804.0 C665.8,1807.6 673.4,1811.5 678.9,1815.0 C683.2,1817.7 685.3,1820.0 690.0,1823.0 C697.4,1827.7 709.8,1833.7 719.6,1839.4 C729.5,1845.1 738.4,1851.6 749.2,1857.2 C761.2,1863.5 775.7,1869.9 788.6,1875.0 C800.5,1879.7 812.0,1882.6 823.5,1886.9 C834.9,1891.1 845.9,1896.2 857.1,1900.4 C868.2,1904.6 879.4,1908.7 890.6,1912.1 C901.7,1915.4 913.4,1918.1 924.1,1920.5 C933.8,1922.7 942.8,1924.2 952.1,1926.1" fill="none" stroke="#0cf0fc" stroke-width="7.0" stroke-linejoin="round" stroke-linecap="round"/>
</g>
<text id="t41" x="215.9" y="2003.5" class="tl" text-anchor="end" transform="translate(0,2003.5) scale(1,1.045) translate(0,-2003.5)">0.0</text>
<text id="t42" x="215.9" y="1909.6" class="tl" text-anchor="end" transform="translate(0,1909.6) scale(1,1.045) translate(0,-1909.6)">0.2</text>
<text id="t43" x="215.9" y="1815.7" class="tl" text-anchor="end" transform="translate(0,1815.7) scale(1,1.045) translate(0,-1815.7)">0.4</text>
<text id="t44" x="215.9" y="1721.8" class="tl" text-anchor="end" transform="translate(0,1721.8) scale(1,1.045) translate(0,-1721.8)">0.6</text>
<text id="t45" x="215.9" y="1627.9" class="tl" text-anchor="end" transform="translate(0,1627.9) scale(1,1.045) translate(0,-1627.9)">0.8</text>
<text id="t46" x="215.9" y="1534.0" class="tl" text-anchor="end" transform="translate(0,1534.0) scale(1,1.045) translate(0,-1534.0)"><tspan class="h">1</tspan>.0</text>
<text id="t47" x="246.9" y="2050.5" class="tl" text-anchor="middle" transform="translate(0,2050.5) scale(1,1.045) translate(0,-2050.5)">300</text>
<text id="t48" x="347.4" y="2050.5" class="tl" text-anchor="middle" transform="translate(0,2050.5) scale(1,1.045) translate(0,-2050.5)">400</text>
<text id="t49" x="447.8" y="2050.5" class="tl" text-anchor="middle" transform="translate(0,2050.5) scale(1,1.045) translate(0,-2050.5)">500</text>
<text id="t50" x="548.3" y="2050.5" class="tl" text-anchor="middle" transform="translate(0,2050.5) scale(1,1.045) translate(0,-2050.5)">600</text>
<text id="t51" x="648.7" y="2050.5" class="tl" text-anchor="middle" transform="translate(0,2050.5) scale(1,1.045) translate(0,-2050.5)">700</text>
<text id="t52" x="749.2" y="2050.5" class="tl" text-anchor="middle" transform="translate(0,2050.5) scale(1,1.045) translate(0,-2050.5)">800</text>
<text id="t53" x="849.6" y="2050.5" class="tl" text-anchor="middle" transform="translate(0,2050.5) scale(1,1.045) translate(0,-2050.5)">900</text>
<text id="t54" x="950.1" y="2050.5" class="tl" text-anchor="middle" transform="translate(0,2050.5) scale(1,1.045) translate(0,-2050.5)"><tspan class="h">1</tspan>000</text>
<text id="t55" x="325.0" y="1511.0" class="tt" transform="translate(0,1511.0) scale(1,1.045) translate(0,-1511.0)">Subtype C <tspan class="tp">(</tspan>2<tspan class="h">1</tspan> nm Ag<tspan class="tp">)</tspan></text>
<rect x="790.1" y="1588.0" width="141.6" height="222.5" fill="#fff" stroke="#222" stroke-width="2.2"/>
<line x1="795.1" y1="1613.0" x2="874.1" y2="1613.0" stroke="#f8f800" stroke-width="7.0" stroke-linecap="round"/>
<text id="t56" x="883.6" y="1625.3" class="tl" transform="translate(0,1625.3) scale(1,1.045) translate(0,-1625.3)">S<tspan class="h">1</tspan></text>
<line x1="795.1" y1="1656.4" x2="874.1" y2="1656.4" stroke="#f44545" stroke-width="7.0" stroke-linecap="round"/>
<text id="t57" x="883.6" y="1668.7" class="tl" transform="translate(0,1668.7) scale(1,1.045) translate(0,-1668.7)">S2</text>
<line x1="795.1" y1="1699.8" x2="874.1" y2="1699.8" stroke="#05ea15" stroke-width="7.0" stroke-linecap="round"/>
<text id="t58" x="883.6" y="1712.1" class="tl" transform="translate(0,1712.1) scale(1,1.045) translate(0,-1712.1)">S3</text>
<line x1="795.1" y1="1743.2" x2="874.1" y2="1743.2" stroke="#0000dd" stroke-width="7.0" stroke-linecap="round"/>
<text id="t59" x="883.6" y="1755.5" class="tl" transform="translate(0,1755.5) scale(1,1.045) translate(0,-1755.5)">S4</text>
<line x1="795.1" y1="1786.6" x2="874.1" y2="1786.6" stroke="#0cf0fc" stroke-width="7.0" stroke-linecap="round"/>
<text id="t60" x="883.6" y="1798.9" class="tl" transform="translate(0,1798.9) scale(1,1.045) translate(0,-1798.9)">S5</text>
<text transform="translate(124.1,1758.4) rotate(-90)" x="0" y="0" text-anchor="middle" class="ax" dy="13">T</text>
<text x="517.4" y="2109.2" class="lam">λ</text>
<text x="550.4" y="2108.8" class="nm"><tspan class="np">(</tspan>nm<tspan class="np" dx="1.8">)</tspan></text>
<text x="39.6" y="69.0" class="pl" style="font-size:67px">(</text>
<text x="73.3" y="73.9" class="pl" style="font-size:73px">a</text>
<text x="128.3" y="69.0" class="pl" style="font-size:67px">)</text>
<text x="40.0" y="778.2" class="pl" style="font-size:67px">(</text>
<text transform="translate(76.8,783.4) scale(1.085,1)" x="0" y="0" class="pl" style="font-size:74px">b</text>
<text x="134.6" y="778.2" class="pl" style="font-size:67px">)</text>
<text x="38.6" y="1500.2" class="pl" style="font-size:67px">(</text>
<text x="75.5" y="1505.9" class="pl" style="font-size:72px">c</text>
<text x="124.9" y="1500.2" class="pl" style="font-size:67px">)</text>
<use href="#oneR" transform="translate(166.54,96.40) scale(0.016846,-0.017604)" style="fill:#111;stroke:#111;stroke-width:0.45px;vector-effect:non-scaling-stroke"/>
<use href="#oneR" transform="translate(911.04,612.70) scale(0.016846,-0.017604)" style="fill:#111;stroke:#111;stroke-width:0.45px;vector-effect:non-scaling-stroke"/>
<use href="#oneB" transform="translate(631.44,74.00) scale(0.027344,-0.028574)" style="fill:#000"/>
<use href="#oneR" transform="translate(791.91,348.70) scale(0.016846,-0.017604)" style="fill:#111;stroke:#111;stroke-width:0.45px;vector-effect:non-scaling-stroke"/>
<use href="#oneR" transform="translate(164.14,810.20) scale(0.016846,-0.017604)" style="fill:#111;stroke:#111;stroke-width:0.45px;vector-effect:non-scaling-stroke"/>
<use href="#oneR" transform="translate(908.14,1326.10) scale(0.016846,-0.017604)" style="fill:#111;stroke:#111;stroke-width:0.45px;vector-effect:non-scaling-stroke"/>
<use href="#oneB" transform="translate(628.10,785.30) scale(0.027344,-0.028574)" style="fill:#000"/>
<use href="#oneR" transform="translate(906.61,914.00) scale(0.016846,-0.017604)" style="fill:#111;stroke:#111;stroke-width:0.45px;vector-effect:non-scaling-stroke"/>
<use href="#oneR" transform="translate(167.94,1534.00) scale(0.016846,-0.017604)" style="fill:#111;stroke:#111;stroke-width:0.45px;vector-effect:non-scaling-stroke"/>
<use href="#oneR" transform="translate(911.74,2050.50) scale(0.016846,-0.017604)" style="fill:#111;stroke:#111;stroke-width:0.45px;vector-effect:non-scaling-stroke"/>
<use href="#oneB" transform="translate(667.25,1511.00) scale(0.027344,-0.028574)" style="fill:#000"/>
<use href="#oneR" transform="translate(906.61,1625.30) scale(0.016846,-0.017604)" style="fill:#111;stroke:#111;stroke-width:0.45px;vector-effect:non-scaling-stroke"/>
</g>
</svg>
</body></html>
